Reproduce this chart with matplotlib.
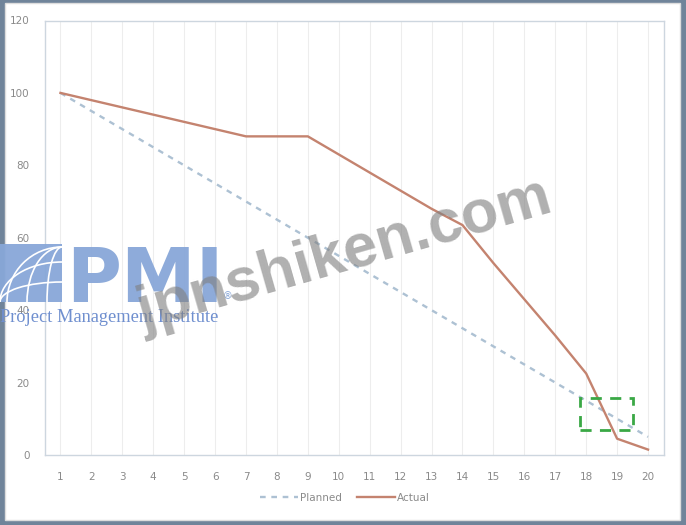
import matplotlib
matplotlib.use("Agg")
import matplotlib.pyplot as plt
from matplotlib.patches import Rectangle, Ellipse

# ---- data ----
days = list(range(1, 21))
planned = [100, 95, 90, 85, 80, 75, 70, 65, 60, 55, 50, 45, 40, 35, 30, 25, 20, 15, 10, 5]
actual = [100, 98, 96, 94, 92, 90, 88, 88, 88, 83, 78, 73, 68, 63.5, 53, 43, 33, 22.5, 4.5, 1.5]
y_ticks = [0, 20, 40, 60, 80, 100, 120]
series_names = ["Planned", "Actual"]
highlight_box = (17.8, 6.8, 19.5, 15.8)  # x0, y0, x1, y1 in data units

W, H = 686, 525
fig = plt.figure(figsize=(W / 100, H / 100), dpi=100)
fig.patch.set_facecolor("#70849a")

def fx(px):
    return px / W

def fy(py):
    return 1 - py / H

# white card with faint inner border
card = Rectangle((fx(5), fy(520)), fx(680) - fx(5), fy(3) - fy(520),
                 transform=fig.transFigure, facecolor="white",
                 edgecolor="#dddddd", linewidth=1.0, zorder=-10)
fig.patches.append(card)

ax = fig.add_axes([fx(45), fy(455), fx(663.5) - fx(45), fy(20.5) - fy(455)])
ax.set_facecolor("none")
ax.set_zorder(1)

tick_font = ["Liberation Sans Narrow", "DejaVu Sans"]
tcol = "#8a8a8a"

for d in days:
    ax.axvline(d, color="#ededed", linewidth=0.8, zorder=0)

ax.plot(days, planned, color="#adc1d3", linewidth=1.7, linestyle=(0, (2.4, 2.4)),
        label=series_names[0], zorder=3)
ax.plot(days, actual, color="#c4836f", linewidth=1.7, label=series_names[1], zorder=4)

x0, y0, x1, y1 = highlight_box
ax.add_patch(Rectangle((x0, y0), x1 - x0, y1 - y0, fill=False, edgecolor="#3aa845",
                       linewidth=2.0, linestyle=(0, (4, 3)), zorder=5))

ax.set_xlim(0.5, 20.5)
ax.set_ylim(0, 120)
ax.set_xticks(days)
ax.set_xticklabels([str(d) for d in days])
ax.set_yticks(y_ticks)
ax.set_yticklabels([str(v) for v in y_ticks])
ax.tick_params(axis="both", length=0, labelsize=7.5, labelcolor=tcol)
ax.tick_params(axis="y", pad=11)
ax.tick_params(axis="x", pad=12)
for lab in ax.get_xticklabels() + ax.get_yticklabels():
    lab.set_family(tick_font)
for s in ax.spines.values():
    s.set_color("#cdd6df")
    s.set_linewidth(1.0)

fig.legend(loc="center", bbox_to_anchor=(fx(345), fy(498)), ncol=2, frameon=False,
           prop={"family": tick_font, "size": 7.5}, labelcolor=tcol,
           handlelength=3.6, handletextpad=0.2, columnspacing=1.5)

# ---- watermarks ----
blue = "#88a7d8"
logo = Rectangle((0, fy(302)), fx(62), fy(244) - fy(302), transform=fig.transFigure,
                 facecolor=blue, edgecolor="none", zorder=10, alpha=0.95)
fig.patches.append(logo)
for (cx, cy, rw, rh) in [(62, 302, 110, 110), (62, 302, 70, 110), (62, 302, 30, 110),
                          (62, 302, 124, 40), (62, 302, 124, 80)]:
    e = Ellipse((fx(cx), fy(cy)), fx(rw), rh / H, transform=fig.transFigure,
                fill=False, edgecolor="white", linewidth=1.2, zorder=11)
    fig.patches.append(e)
    e.set_clip_path(logo)

fig.text(fx(66), fy(302), "PMI", fontsize=54, fontweight="bold", color=blue,
         family=["DejaVu Sans"], ha="left", va="baseline", zorder=10, alpha=0.95)
fig.text(fx(223), fy(296), "®", fontsize=7, color=blue, ha="left", va="center", zorder=10)
fig.text(fx(0), fy(318), "Project Management Institute", fontsize=13.2, color="#6f8fcf",
         family=["Liberation Serif", "DejaVu Serif"], ha="left", va="center", zorder=10)
fig.text(fx(345), fy(256), "jpnshiken.com", fontsize=44, fontweight="bold",
         color="#808080", alpha=0.62, rotation=16, rotation_mode="anchor",
         family=["Liberation Sans", "DejaVu Sans"], ha="center", va="center", zorder=12)

fig.savefig("out.png", dpi=100, facecolor=fig.get_facecolor())
